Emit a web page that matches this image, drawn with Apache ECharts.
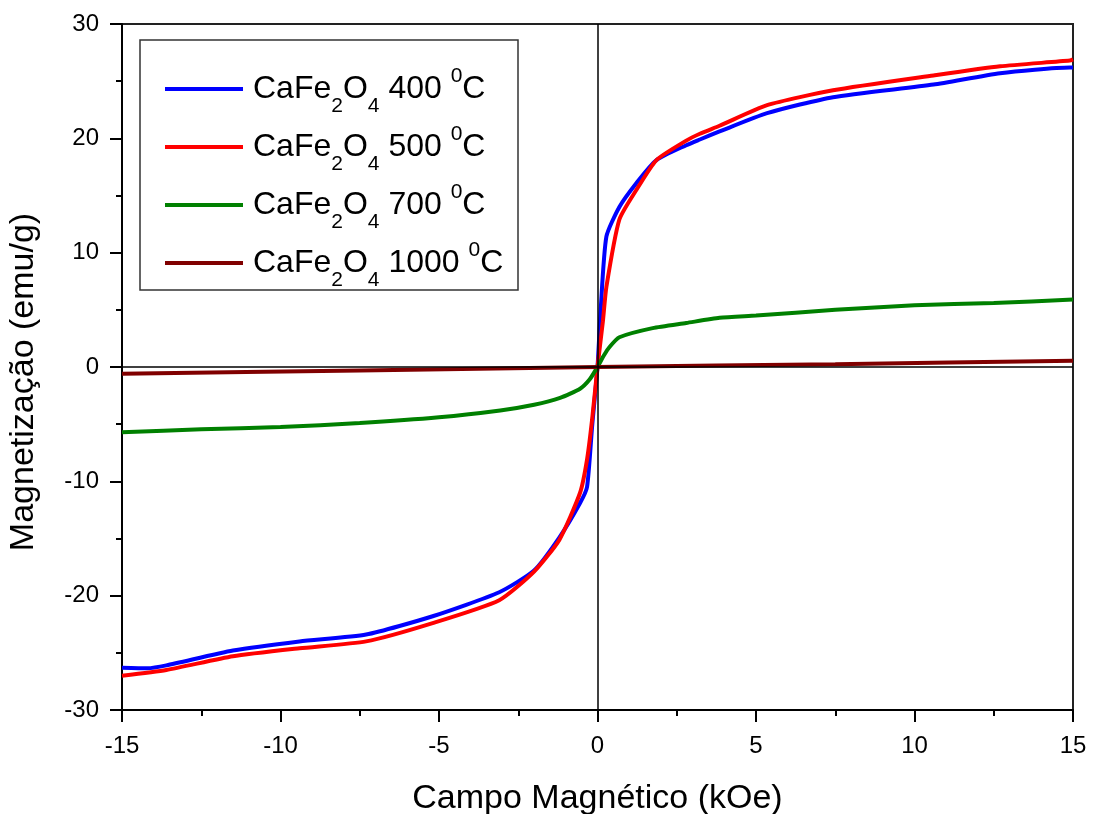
<!DOCTYPE html>
<html>
<head>
<meta charset="utf-8">
<script src="https://cdn.jsdelivr.net/npm/echarts@6/dist/echarts.min.js"></script>
<style>html,body{margin:0;padding:0;background:#fff}#c{width:1094px;height:814px}</style>
</head>
<body>
<div id="c"></div>
<script>
const seriesNames = ['400', '500', '700', '1000'];
const field400 = [-15, -14.2, -13.6, -11.5, -9.4, -7.3, -5.2, -3.1, -2, -1.2, -0.55, -0.33, -0.17, 0, 0.1, 0.28, 0.69, 1.23, 1.86, 2.8, 3.23, 3.85, 5.35, 7.43, 10.6, 12.7, 14.9, 15];
const mag400 = [-26.3, -26.35, -26.1, -24.8, -24.0, -23.4, -21.8, -19.7, -17.8, -14.9, -11.9, -10.5, -5.2, 0, 5, 11.4, 14.0, 16.1, 18.1, 19.4, 19.9, 20.6, 22.2, 23.6, 24.7, 25.7, 26.2, 26.2];
const field500 = [-15, -13.6, -11.5, -9.4, -7.3, -5.2, -3.1, -2, -1.2, -0.55, -0.33, -0.17, 0, 0.17, 0.28, 0.69, 1.23, 1.86, 2.8, 3.23, 3.85, 5.35, 7.43, 10.6, 12.7, 14.9, 15];
const mag500 = [-27.0, -26.5, -25.3, -24.6, -24.0, -22.4, -20.4, -17.9, -15.1, -11.0, -8.1, -4.6, 0, 4, 7.0, 12.9, 15.5, 18.1, 19.8, 20.4, 21.1, 22.9, 24.2, 25.5, 26.3, 26.8, 26.9];
const field700 = [-15, -12.5, -10, -7.5, -5, -3.07, -2, -1.18, -0.55, -0.25, 0, 0.2, 0.38, 0.69, 1.74, 2.8, 3.85, 5, 7.5, 10, 12.5, 15];
const mag700 = [-5.7, -5.45, -5.25, -4.9, -4.4, -3.8, -3.3, -2.7, -1.9, -1.1, 0, 1.0, 1.75, 2.6, 3.4, 3.85, 4.3, 4.5, 5.0, 5.4, 5.6, 5.9];
const field1000 = [-15, -7.5, 0, 7.5, 15];
const mag1000 = [-0.6, -0.3, 0, 0.25, 0.55];
const xTicks = [-15, -10, -5, 0, 5, 10, 15];
const yTicks = [-30, -20, -10, 0, 10, 20, 30];

const zip = (xs, ys) => xs.map((x, i) => [x, ys[i]]);
const font = '"Liberation Sans", Arial, sans-serif';
const colors = ['#0000ff', '#ff0000', '#008000', '#800000'];
const datas = [zip(field400, mag400), zip(field500, mag500), zip(field700, mag700), zip(field1000, mag1000)];

const chart = echarts.init(document.getElementById('c'));
const series = seriesNames.map((n, i) => ({
  name: n,
  type: 'line',
  data: datas[i],
  symbol: 'none',
  smooth: 0.2,
  lineStyle: { width: 4, color: colors[i] },
  itemStyle: { color: colors[i] },
  z: 3
}));
series.unshift({
  name: 'zero', type: 'line', data: [], silent: true, z: 2,
  markLine: {
    silent: true, symbol: 'none', animation: false,
    label: { show: false },
    lineStyle: { color: '#000', width: 1.5, type: 'solid' },
    data: [{ xAxis: 0 }, { yAxis: 0 }]
  }
});

chart.setOption({
  animation: false,
  backgroundColor: '#fff',
  textStyle: { fontFamily: font },
  grid: { left: 122, right: 21, top: 24, bottom: 104, outerBoundsMode: 'none', containLabel: false, show: true, borderColor: '#222', borderWidth: 2, backgroundColor: 'transparent' },
  graphic: [{ type: 'rect', shape: { x: 140, y: 40, width: 378, height: 250 }, style: { fill: 'none', stroke: '#333', lineWidth: 1.5 }, z: 10 }],
  legend: {
    data: seriesNames,
    orient: 'vertical',
    left: 165, top: 61,
    padding: 0,
    icon: 'rect',
    itemWidth: 78, itemHeight: 4,
    itemGap: 2,
    formatter: n => 'CaFe{s|2}O{s|4} ' + n + ' {p|0}C',
    textStyle: {
      fontFamily: font, fontSize: 32, color: '#000', lineHeight: 56, padding: [0, 0, 0, 5],
      rich: {
        s: { fontFamily: font, fontSize: 21, color: '#000', verticalAlign: 'middle', lineHeight: 21, padding: [34, 0, 0, 0] },
        p: { fontFamily: font, fontSize: 21, color: '#000', verticalAlign: 'top', lineHeight: 33, padding: [5, 0, 0, 0] }
      }
    }
  },
  xAxis: {
    type: 'value', min: -15, max: 15, interval: 5,
    name: 'Campo Magnético (kOe)', nameLocation: 'middle', nameGap: 72,
    nameTextStyle: { fontFamily: font, fontSize: 34, color: '#000' },
    axisLine: { show: true, onZero: false, lineStyle: { color: '#000', width: 2 } },
    axisTick: { show: true, inside: false, length: 12, lineStyle: { color: '#000', width: 2 } },
    minorTick: { show: true, splitNumber: 2, length: 6, lineStyle: { color: '#000', width: 2 } },
    axisLabel: { fontFamily: font, fontSize: 24, color: '#000', margin: 24, formatter: v => xTicks.includes(v) ? String(v) : '' },
    splitLine: { show: false }
  },
  yAxis: {
    type: 'value', min: -30, max: 30, interval: 10,
    name: 'Magnetização (emu/g)', nameLocation: 'middle', nameGap: 81,
    nameTextStyle: { fontFamily: font, fontSize: 34, color: '#000', padding: [0, 30, 0, 0] },
    axisLine: { show: true, onZero: false, lineStyle: { color: '#000', width: 2 } },
    axisTick: { show: true, inside: false, length: 12, lineStyle: { color: '#000', width: 2 } },
    minorTick: { show: true, splitNumber: 2, length: 6, lineStyle: { color: '#000', width: 2 } },
    axisLabel: { fontFamily: font, fontSize: 24, color: '#000', margin: 23, formatter: v => yTicks.includes(v) ? String(v) : '' },
    splitLine: { show: false }
  },
  series: series
});
</script>
</body>
</html>
